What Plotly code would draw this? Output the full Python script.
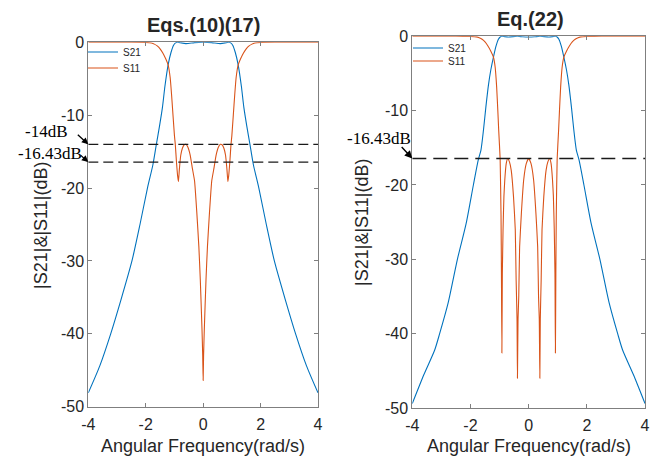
import plotly.graph_objects as go

# ---------------- data: left panel  Eqs.(10)(17) ----------------
left_s21_x = [-4, -3.6, -3.22, -2.86, -2.48, -2.2, -1.94, -1.75, -1.63, -1.52, -1.42, -1.33, -1.22, -1.12,
              -1.03, -0.96, -0.9, -0.6, -0.3, 0, 0.3, 0.6, 0.9, 0.96, 1.03, 1.12, 1.22, 1.33, 1.42, 1.52,
              1.63, 1.75, 1.94, 2.2, 2.48, 2.86, 3.22, 3.6, 4]
left_s21_y = [-48.1, -44.4, -40, -35.3, -30, -25, -20, -16.8, -14, -11.5, -9, -6, -3.1, -1.4,
              -0.4, -0.08, 0, -0.18, -0.05, 0, -0.05, -0.18, 0, -0.08, -0.4, -1.4, -3.1, -6, -9, -11.5,
              -14, -16.8, -20, -25, -30, -35.3, -40, -44.4, -48.1]

left_s11_x = [-4, -2.5, -2.0, -1.8, -1.7, -1.6, -1.5, -1.4, -1.3, -1.22, -1.15, -1.1, -1.05, -1.0, -0.97,
              -0.93, -0.89, -0.86, -0.83, -0.78, -0.72, -0.66, -0.6, -0.53, -0.45, -0.38, -0.3, -0.22,
              -0.15, -0.1, -0.04, -0.015, 0,
              0.015, 0.04, 0.1, 0.15, 0.22, 0.3, 0.38, 0.45, 0.53, 0.6, 0.66, 0.72, 0.78, 0.83, 0.86,
              0.89, 0.93, 0.97, 1.0, 1.05, 1.1, 1.15, 1.22, 1.3, 1.4, 1.5, 1.6, 1.7, 1.8, 2.0, 2.5, 4]
left_s11_y = [0, 0, -0.02, -0.1, -0.25, -0.5, -0.9, -1.5, -2.3, -3.1, -4.8, -7.2, -10, -12.8, -14,
              -16.4, -18.3, -19.1, -17.5, -15.5, -14.5, -14.05, -14, -14.4, -15.5, -17.2, -19, -23.4,
              -28, -32.5, -39.4, -43, -46.4,
              -43, -39.4, -32.5, -28, -23.4, -19, -17.2, -15.5, -14.4, -14, -14.05, -14.5, -15.5, -17.5, -19.1,
              -18.3, -16.4, -14, -12.8, -10, -7.2, -4.8, -3.1, -2.3, -1.5, -0.9, -0.5, -0.25, -0.1, -0.02, 0, 0]

left_ref_x = [-4, 4]
left_ref_14 = [-14, -14]
left_ref_1643 = [-16.43, -16.43]

# ---------------- data: right panel  Eq.(22) ----------------
right_s21_x = [-4, -3.6, -3.23, -3.06, -2.77, -2.45, -2.15, -1.9, -1.73, -1.64, -1.55, -1.47, -1.38, -1.3,
               -1.21, -1.12, -1.04, -0.97, -0.92, -0.7, -0.39, -0.2, 0, 0.2, 0.39, 0.7, 0.92, 0.97, 1.04,
               1.12, 1.21, 1.3, 1.38, 1.47, 1.55, 1.64, 1.73, 1.9, 2.15, 2.45, 2.77, 3.06, 3.23, 3.6, 4]
right_s21_y = [-49.4, -45.5, -42.2, -40, -35.9, -30, -25.2, -20, -16.6, -15.3, -12.5, -9.5, -6.5, -4.5,
               -2.8, -1.3, -0.4, -0.05, 0, -0.1, 0, -0.07, -0.1, -0.07, 0, -0.1, 0, -0.05, -0.4,
               -1.3, -2.8, -4.5, -6.5, -9.5, -12.5, -15.3, -16.6, -20, -25.2, -30, -35.9, -40, -42.2, -45.5, -49.4]

right_s11_x = [-4, -2.5, -2.0, -1.8, -1.7, -1.6, -1.5, -1.4, -1.3, -1.21, -1.15, -1.1, -1.06, -1.03, -0.98,
               -0.95, -0.935, -0.92, -0.905, -0.88, -0.85, -0.82, -0.77, -0.72, -0.66, -0.6, -0.52, -0.46,
               -0.43, -0.4, -0.385, -0.365, -0.34, -0.31, -0.25, -0.17, -0.08, 0,
               0.08, 0.17, 0.25, 0.31, 0.34, 0.365, 0.385, 0.4, 0.43, 0.46, 0.52, 0.6, 0.66, 0.72, 0.77,
               0.82, 0.85, 0.88, 0.905, 0.92, 0.935, 0.95, 0.98, 1.03, 1.06, 1.1, 1.15, 1.21, 1.3, 1.4,
               1.5, 1.6, 1.7, 1.8, 2.0, 2.5, 4]
right_s11_y = [0, 0, -0.02, -0.08, -0.2, -0.4, -0.75, -1.3, -2.0, -2.8, -4.2, -6.8, -10, -12.6, -16.5,
               -24, -32, -42.6, -32, -26, -21.5, -19.3, -17.1, -16.43, -16.9, -18, -21.6, -26,
               -32.8, -38, -46, -38, -35, -28.3, -23.8, -19.3, -17.1, -16.43,
               -17.1, -19.3, -23.8, -28.3, -35, -38, -46, -38, -32.8, -26, -21.6, -18, -16.9, -16.43, -17.1,
               -19.3, -21.5, -26, -32, -42.6, -32, -24, -16.5, -12.6, -10, -6.8, -4.2, -2.8, -2.0, -1.3,
               -0.75, -0.4, -0.2, -0.08, -0.02, 0, 0]

right_ref_x = [-4, 4]
right_ref_1643 = [-16.43, -16.43]

x_ticks = [-4, -2, 0, 2, 4]
x_tick_text = ["-4", "-2", "0", "2", "4"]
y_ticks = [0, -10, -20, -30, -40, -50]
y_tick_text = ["0", "-10", "-20", "-30", "-40", "-50"]

BLUE = "#0072BD"
RED = "#D95319"
AX = "#7f7f7f"
TXT = "#262626"

fig = go.Figure()

fig.add_trace(go.Scatter(x=left_s21_x, y=left_s21_y, mode="lines", name="S21",
                         line=dict(color=BLUE, width=1.1, shape="spline", smoothing=0.7),
                         xaxis="x", yaxis="y", legend="legend"))
fig.add_trace(go.Scatter(x=left_s11_x, y=left_s11_y, mode="lines", name="S11",
                         line=dict(color=RED, width=1.1, shape="spline", smoothing=0.4),
                         xaxis="x", yaxis="y", legend="legend2"))
for yy in (left_ref_14, left_ref_1643):
    fig.add_trace(go.Scatter(x=left_ref_x, y=yy, mode="lines", showlegend=False,
                             line=dict(color="#1a1a1a", width=1.2, dash="10px,5px"),
                             xaxis="x", yaxis="y"))

fig.add_trace(go.Scatter(x=right_s21_x, y=right_s21_y, mode="lines", name="S21",
                         line=dict(color=BLUE, width=1.1, shape="spline", smoothing=0.7),
                         xaxis="x2", yaxis="y2", legend="legend3"))
fig.add_trace(go.Scatter(x=right_s11_x, y=right_s11_y, mode="lines", name="S11",
                         line=dict(color=RED, width=1.1, shape="spline", smoothing=0.4),
                         xaxis="x2", yaxis="y2", legend="legend4"))
fig.add_trace(go.Scatter(x=right_ref_x, y=right_ref_1643, mode="lines", showlegend=False,
                         line=dict(color="#1a1a1a", width=1.4, dash="14px,7px"),
                         xaxis="x2", yaxis="y2"))

W, H = 665, 457


def px(xp):
    return xp / W


def py(yp):
    return 1 - yp / H


axis_common = dict(showgrid=False, zeroline=False, showline=True, linecolor=AX, linewidth=1,
                   mirror="ticks", ticks="inside", ticklen=4, tickcolor=AX,
                   tickfont=dict(family="Liberation Sans, Arial", size=16, color=TXT))

leg_font = dict(family="Liberation Sans, Arial", size=10, color=TXT)


def leg(xp, yp):
    return dict(x=px(xp), y=py(yp), xanchor="left", yanchor="middle", font=leg_font,
                bgcolor="rgba(255,255,255,0)", borderwidth=0)


fig.update_layout(
    width=W, height=H, margin=dict(l=0, r=0, t=0, b=0, autoexpand=False),
    paper_bgcolor="white", plot_bgcolor="white",
    xaxis=dict(domain=[px(88.3), px(318)], range=[-4, 4], tickvals=x_ticks, ticktext=x_tick_text,
               anchor="y", ticklabelstandoff=3, **axis_common),
    yaxis=dict(domain=[py(406.7), py(42.3)], range=[-50, 0], tickvals=y_ticks, ticktext=y_tick_text,
               anchor="x", **axis_common),
    xaxis2=dict(domain=[px(412.3), px(645)], range=[-4, 4], tickvals=x_ticks, ticktext=x_tick_text,
                anchor="y2", ticklabelstandoff=3, **axis_common),
    yaxis2=dict(domain=[py(408), py(36.3)], range=[-50, 0], tickvals=y_ticks, ticktext=y_tick_text,
                anchor="x2", **axis_common),
    legend=leg(83, 52),
    legend2=leg(83, 68),
    legend3=leg(408, 48),
    legend4=leg(408, 61),
    showlegend=True,
)

ann = []
C = dict(xref="paper", yref="paper", xanchor="center", yanchor="middle", showarrow=False)
# titles
ann.append(dict(text="<b>Eqs.(10)(17)</b>", x=px(203), y=py(25),
                font=dict(family="Liberation Sans, Arial", size=20, color=TXT), **C))
ann.append(dict(text="<b>Eq.(22)</b>", x=px(530), y=py(19),
                font=dict(family="Liberation Sans, Arial", size=20, color=TXT), **C))
# axis titles
for cx in (203, 529):
    ann.append(dict(text="Angular Frequency(rad/s)", x=px(cx), y=py(446),
                    font=dict(family="Liberation Sans, Arial", size=18, color=TXT), **C))
ann.append(dict(text="|S21|&|S11|(dB)", x=px(41), y=py(226), textangle=-90,
                font=dict(family="Liberation Sans, Arial", size=18, color=TXT), **C))
ann.append(dict(text="|S21|&|S11|(dB)", x=px(362), y=py(222), textangle=-90,
                font=dict(family="Liberation Sans, Arial", size=18, color=TXT), **C))
# dB labels
serif = dict(family="Liberation Serif, Times New Roman", size=17, color="black")
ann.append(dict(text="-14dB", x=px(46), y=py(131), font=serif, **C))
ann.append(dict(text="-16.43dB", x=px(49.5), y=py(153), font=serif, **C))
ann.append(dict(text="-16.43dB", x=px(378.5), y=py(138), font=serif, **C))
# arrows
ann.append(dict(text="", x=-4, y=left_ref_14[0], xref="x", yref="y", ax=-12, ay=-11, showarrow=True,
                arrowhead=2, arrowsize=1, arrowwidth=1.3, arrowcolor="black", standoff=0))
ann.append(dict(text="", x=-4, y=left_ref_1643[0], xref="x", yref="y", ax=-9, ay=-8, showarrow=True,
                arrowhead=2, arrowsize=1, arrowwidth=1.3, arrowcolor="black", standoff=0))
ann.append(dict(text="", x=-4, y=right_ref_1643[0], xref="x2", yref="y2", ax=-12, ay=-13, showarrow=True,
                arrowhead=2, arrowsize=1.1, arrowwidth=1.4, arrowcolor="black", standoff=0))
fig.update_layout(annotations=ann)

fig.write_html("out.html")
